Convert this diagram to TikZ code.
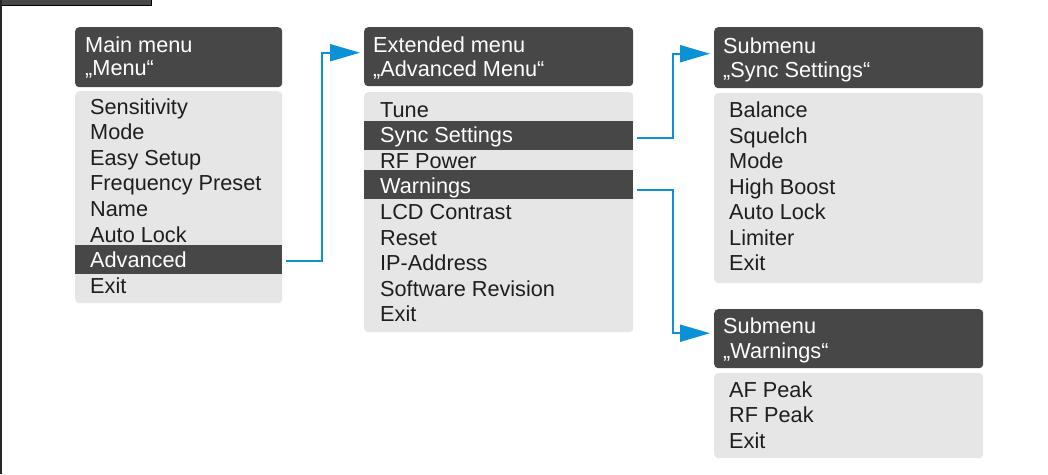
\documentclass[tikz,border=0pt]{standalone}
\usepackage{fontspec}
\setmainfont{Liberation Sans}
\usetikzlibrary{arrows.meta}
\definecolor{hdrgray}{HTML}{474747}
\definecolor{bodygray}{HTML}{E6E6E6}
\definecolor{lineblue}{HTML}{0A91D6}
\definecolor{txtcol}{HTML}{1E1E1E}
\begin{document}
\begin{tikzpicture}[x=1pt,y=-1pt,
  hdr/.style={fill=hdrgray, rounded corners=4pt, anchor=north west, inner sep=0pt, minimum height=60pt},
  bodybox/.style={fill=bodygray, rounded corners=4pt, anchor=north west, inner sep=0pt},
  hl/.style={fill=hdrgray, anchor=north west, inner sep=0pt, minimum height=29pt},
  htxt/.style={anchor=base west, inner sep=0pt, text=white, font=\fontsize{21.7}{26}\selectfont},
  itxt/.style={anchor=base west, inner sep=0pt, text=txtcol, font=\fontsize{21.7}{26}\selectfont},
  conn/.style={draw=lineblue, line width=2pt, -{Triangle[length=30pt,width=17pt]}},
]
\useasboundingbox (0,0) rectangle (1048,474);
% frame
\fill[hdrgray] (0,0) rectangle (151,5);
\draw[black, line width=1pt] (151,0) -- (151,5) -- (1.5,5);
\draw[black!85, line width=1.5pt] (1,0) -- (1,474);

% Main menu
\node[hdr, minimum width=207pt] (mainh) at (75,27) {};
\node[htxt] (mainh1) at (85,52) {Main menu};
\node[htxt] (mainh2) at (85,75.5) {„Menu“};
\node[bodybox, minimum width=207pt, minimum height=212pt] (mainb) at (75,91) {};
\node[hl, minimum width=207pt] (adv) at (75,245) {};
\foreach \t [count=\i from 0] in {Sensitivity,Mode,Easy Setup,Frequency Preset,Name,Auto Lock}
  \node[itxt] (m\i) at (90,114+25.6*\i) {\t};
\node[itxt, text=white] (m6) at (90,267.6) {Advanced};
\node[itxt] (m7) at (90,293.2) {Exit};

% Extended menu
\node[hdr, minimum width=269pt, minimum height=59pt] (exth) at (364,27) {};
\node[htxt] (exth1) at (373,52) {Extended menu};
\node[htxt] (exth2) at (373,76) {„Advanced Menu“};
\node[bodybox, minimum width=269pt, minimum height=240pt] (extb) at (364,92) {};
\node[hl, minimum width=269pt] (synchl) at (364,121) {};
\node[hl, minimum width=269pt] (warnhl) at (364,170) {};
\node[itxt] (e0) at (380,117) {Tune};
\node[itxt, text=white] (e1) at (380,142.6) {Sync Settings};
\node[itxt] (e2) at (380,168.2) {RF Power};
\node[itxt, text=white] (e3) at (380,193.8) {Warnings};
\node[itxt] (e4) at (380,219.4) {LCD Contrast};
\node[itxt] (e5) at (380,245) {Reset};
\node[itxt] (e6) at (380,270.6) {IP-Address};
\node[itxt] (e7) at (380,296.2) {Software Revision};
\node[itxt] (e8) at (380,321.8) {Exit};

% Submenu Sync Settings
\node[hdr, minimum width=269pt, minimum height=61pt] (synch) at (714,27) {};
\node[htxt] (synch1) at (723,53) {Submenu};
\node[htxt] (synch2) at (723,77) {„Sync Settings“};
\node[bodybox, minimum width=269pt, minimum height=190pt] (syncb) at (714,93) {};
\foreach \t [count=\i from 0] in {Balance,Squelch,Mode,High Boost,Auto Lock,Limiter,Exit}
  \node[itxt] (s\i) at (729,117.7+25.5*\i) {\t};

% Submenu Warnings
\node[hdr, minimum width=269pt, minimum height=59pt] (warnh) at (714,309) {};
\node[htxt] (warnh1) at (723,333) {Submenu};
\node[htxt] (warnh2) at (723,358) {„Warnings“};
\node[bodybox, minimum width=269pt, minimum height=85pt] (warnb) at (714,373) {};
\foreach \t [count=\i from 0] in {AF Peak,RF Peak,Exit}
  \node[itxt] (w\i) at (729,397+25.5*\i) {\t};

% connectors
\draw[conn] ([xshift=4pt,yshift=-1.5pt]adv.east) -- ++(36,0) |- ([xshift=-4pt,yshift=4pt]exth.west);
\draw[conn] ([xshift=4pt,yshift=-2.5pt]synchl.east) -- ++(36,0) |- ([xshift=-4pt,yshift=4pt]synch.west);
\draw[conn] ([xshift=4pt,yshift=-5.5pt]warnhl.east) -- ++(36,0) |- ([xshift=-4pt,yshift=5.5pt]warnh.west);
\end{tikzpicture}
\end{document}
